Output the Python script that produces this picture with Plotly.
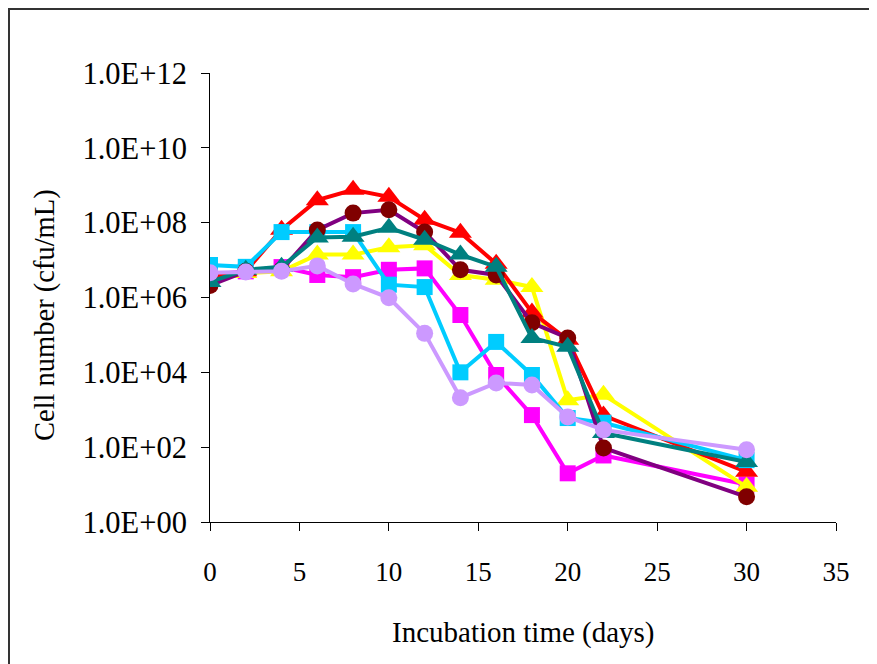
import plotly.graph_objects as go

days = [0, 2, 4, 6, 8, 10, 12, 14, 16, 18, 20, 22, 30]

magenta_sq = [4.0e6, 5.0e6, 6.5e6, 4.0e6, 3.5e6, 5.5e6, 6.0e6, 3.4e5, 8.5e3, 7.2e2, 20, 60, 10]
yellow_tri = [3.5e6, 4.5e6, 5.0e6, 1.4e7, 1.4e7, 2.2e7, 2.5e7, 4.0e6, 3.0e6, 1.9e6, 1.8e3, 2.5e3, 8.7]
red_tri = [3.5e6, 5.0e6, 6.5e7, 4.0e8, 7.6e8, 4.9e8, 1.2e8, 5.4e7, 8.0e6, 4.0e5, 7.4e4, 7.0e2, 22]
cyan_sq = [7.4e6, 6.6e6, 5.6e7, 5.6e7, 5.6e7, 2.2e6, 1.9e6, 1.0e4, 6.5e4, 8.5e3, 6.0e2, 4.5e2, 45]
maroon_circ = [2.1e6, 5.0e6, 5.5e6, 6.4e7, 1.8e8, 2.2e8, 5.6e7, 5.5e6, 4.0e6, 2.1e5, 8.3e4, 95, 4.7]
teal_tri = [2.6e6, 5.5e6, 6.6e6, 4.0e7, 4.2e7, 7.3e7, 3.5e7, 1.4e7, 6.6e6, 8.3e4, 4.8e4, 2.4e2, 40]
lavender_circ = [4.6e6, 4.8e6, 5.0e6, 7.0e6, 2.3e6, 9.8e5, 1.1e5, 2.1e3, 5.2e3, 4.6e3, 6.4e2, 2.9e2, 85]

ytick_vals = [1, 1e2, 1e4, 1e6, 1e8, 1e10, 1e12]
ytick_text = ["1.0E+00", "1.0E+02", "1.0E+04", "1.0E+06", "1.0E+08", "1.0E+10", "1.0E+12"]
xtick_vals = [0, 5, 10, 15, 20, 25, 30, 35]

series = [
    (magenta_sq, "#FF00FF", "#FF00FF", "square", 16),
    (yellow_tri, "#FFFF00", "#FFFF00", "triangle-up", 20),
    (red_tri, "#FF0000", "#FF0000", "triangle-up", 20),
    (cyan_sq, "#00CCFF", "#00CCFF", "square", 16),
    (maroon_circ, "#800080", "#800000", "circle", 17),
    (teal_tri, "#008080", "#008080", "triangle-up", 20),
    (lavender_circ, "#CC99FF", "#CC99FF", "circle", 17),
]

fig = go.Figure()
for vals, lc, mc, sym, sz in series:
    fig.add_trace(go.Scatter(
        x=days, y=vals, mode="lines+markers",
        line=dict(color=lc, width=4),
        marker=dict(color=mc, symbol=sym, size=sz, line=dict(width=0)),
        showlegend=False,
    ))

font_family = "Liberation Serif, Times New Roman, serif"

fig.update_layout(
    width=869, height=656,
    margin=dict(l=202, r=41, t=65, b=142),
    paper_bgcolor="white", plot_bgcolor="white",
    font=dict(family=font_family, color="black", size=27),
    xaxis=dict(
        range=[0, 35], tickvals=xtick_vals, showgrid=False, zeroline=False,
        showline=True, linecolor="black", linewidth=1,
        ticks="outside", ticklen=8, tickcolor="black",
        tickfont=dict(size=27, family=font_family),
        ticklabelstandoff=18,
    ),
    yaxis=dict(
        type="log", range=[0, 12], tickvals=ytick_vals, ticktext=ytick_text,
        showgrid=False, zeroline=False,
        showline=True, linecolor="black", linewidth=1,
        ticks="outside", ticklen=8, tickcolor="black",
        tickfont=dict(size=30.5, family=font_family),
        ticklabelstandoff=8,
    ),
    annotations=[
        dict(text="Incubation time (days)", xref="paper", yref="paper",
             x=0.5, y=-0.245, showarrow=False, xanchor="center", yanchor="middle",
             font=dict(size=29, family=font_family)),
        dict(text="Cell number (cfu/mL)", xref="paper", yref="paper",
             x=-0.2636, y=0.461, showarrow=False, textangle=-90,
             xanchor="center", yanchor="middle",
             font=dict(size=28.5, family=font_family)),
    ],
    shapes=[
        dict(type="rect", xref="paper", yref="paper",
             x0=-0.3211, y0=-2, x1=2, y1=1.1425,
             line=dict(color="#333333", width=2), layer="below"),
    ],
)

fig.write_html("out.html")
